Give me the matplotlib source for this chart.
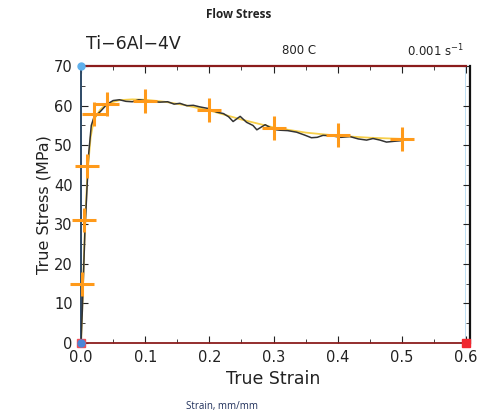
import matplotlib
matplotlib.use("Agg")
import matplotlib.pyplot as plt
from matplotlib.ticker import MultipleLocator

# measured flow curve (black, jagged)
strain_meas = [0.0, 0.002, 0.004, 0.006, 0.009, 0.012, 0.016, 0.02, 0.03, 0.04,
               0.05, 0.06, 0.07, 0.08, 0.09, 0.10, 0.11, 0.123, 0.135, 0.145,
               0.154, 0.165, 0.175, 0.185, 0.198, 0.211, 0.222, 0.23, 0.237,
               0.248, 0.258, 0.268, 0.274, 0.287, 0.30, 0.31, 0.322, 0.336,
               0.348, 0.359, 0.368, 0.377, 0.39, 0.405, 0.419, 0.432, 0.445,
               0.455, 0.466, 0.476, 0.488, 0.502]
stress_meas = [0.0, 8.0, 18.0, 28.0, 38.0, 48.0, 55.0, 57.0, 58.5, 60.3,
               61.3, 61.5, 61.1, 61.0, 61.5, 61.3, 61.0, 60.9, 61.0, 60.4,
               60.6, 60.0, 60.1, 59.7, 59.3, 58.4, 58.0, 57.2, 56.0,
               57.3, 55.8, 55.0, 53.9, 55.2, 54.0, 53.8, 53.7, 53.3,
               52.6, 51.9, 52.0, 52.5, 52.4, 52.0, 52.2, 51.6, 51.3,
               51.7, 51.3, 50.8, 51.0, 51.2]

# fitted model curve (yellow, smooth)
strain_fit = [0.0, 0.003, 0.006, 0.01, 0.015, 0.02, 0.03, 0.04, 0.06, 0.08,
              0.10, 0.13, 0.16, 0.20, 0.25, 0.30, 0.35, 0.40, 0.45, 0.50]
stress_fit = [0.0, 14.0, 29.0, 43.0, 52.0, 56.5, 59.0, 60.5, 61.4, 61.6,
              61.5, 61.0, 60.2, 58.8, 56.5, 54.5, 53.2, 52.4, 51.9, 51.6]

# selected points (orange crosses)
strain_pts = [0.002, 0.005, 0.01, 0.02, 0.04, 0.10, 0.20, 0.30, 0.40, 0.50]
stress_pts = [15.0, 31.0, 44.8, 57.8, 60.5, 61.3, 59.0, 54.3, 52.5, 51.7]

xticks = [0.0, 0.1, 0.2, 0.3, 0.4, 0.5, 0.6]
yticks = [0, 10, 20, 30, 40, 50, 60, 70]

fig = plt.figure(figsize=(4.78, 4.16), dpi=100)
ax = fig.add_axes([0.1695, 0.1755, 0.8055, 0.6655])

ax.plot(strain_fit, stress_fit, color="#f7cf4a", lw=1.3, zorder=2)
ax.plot(strain_meas, stress_meas, color="#333333", lw=1.1, zorder=3)
ax.plot(strain_pts, stress_pts, linestyle="none", marker="+", ms=17, mew=2.2,
        color="#ff9a1a", zorder=4, clip_on=False)

ax.axvline(0.6, color="#b9dcf2", lw=2, zorder=1)
ax.plot([0.0], [70], "o", color="#5fb0ec", ms=5, clip_on=False, zorder=6)
ax.plot([0.6], [0], "s", color="#f02830", ms=6, clip_on=False, zorder=6)
ax.plot([0.0], [0], "s", color="#f05058", ms=6, clip_on=False, zorder=6)
ax.plot([0.0], [0], "o", color="#4a86d8", ms=5, clip_on=False, zorder=7)

ax.set_xlim(0, 0.6)
ax.set_ylim(0, 70)
ax.set_xticks(xticks)
ax.set_xticklabels([f"{t:.1f}" for t in xticks])
ax.set_yticks(yticks)
ax.xaxis.set_minor_locator(MultipleLocator(0.05))
ax.yaxis.set_minor_locator(MultipleLocator(5))
ax.tick_params(which="both", direction="in", top=True, right=True,
               labelsize=10.5, colors="#222222")
ax.tick_params(which="major", length=5)
ax.tick_params(which="minor", length=3)
ax.tick_params(axis="x", pad=5)
ax.tick_params(axis="y", pad=6)

ax.spines["top"].set_color("#8b1c1c")
ax.spines["bottom"].set_color("#8b1c1c")
ax.spines["top"].set_linewidth(1.6)
ax.spines["bottom"].set_linewidth(1.3)
ax.spines["left"].set_color("#2e4a66")
ax.spines["left"].set_linewidth(1.4)
ax.spines["right"].set_color("#111111")
ax.spines["right"].set_linewidth(1.6)
ax.spines["right"].set_position(("data", 0.606))

ax.set_xlabel("True Strain", fontsize=12.5, color="#222222", labelpad=4)
ax.set_ylabel("True Stress (MPa)", fontsize=11.5, color="#222222", labelpad=2)

fig.text(0.5, 0.965, "Flow Stress", ha="center", va="center",
         fontsize=8.5, fontweight="bold", family="Open Sans", color="#222222")
fig.text(0.18, 0.895, "Ti\u22126Al\u22124V", ha="left", va="center",
         fontsize=12.5, color="#222222")
fig.text(0.625, 0.878, "800 C", ha="center", va="center",
         fontsize=8.5, color="#222222")
fig.text(0.97, 0.878, "0.001 s$^{-1}$", ha="right", va="center",
         fontsize=8.5, color="#222222")
fig.text(0.465, 0.022, "Strain, mm/mm", ha="center", va="center",
         fontsize=7, family="Open Sans", color="#1f2f5a")

fig.savefig("out.png", dpi=100)
